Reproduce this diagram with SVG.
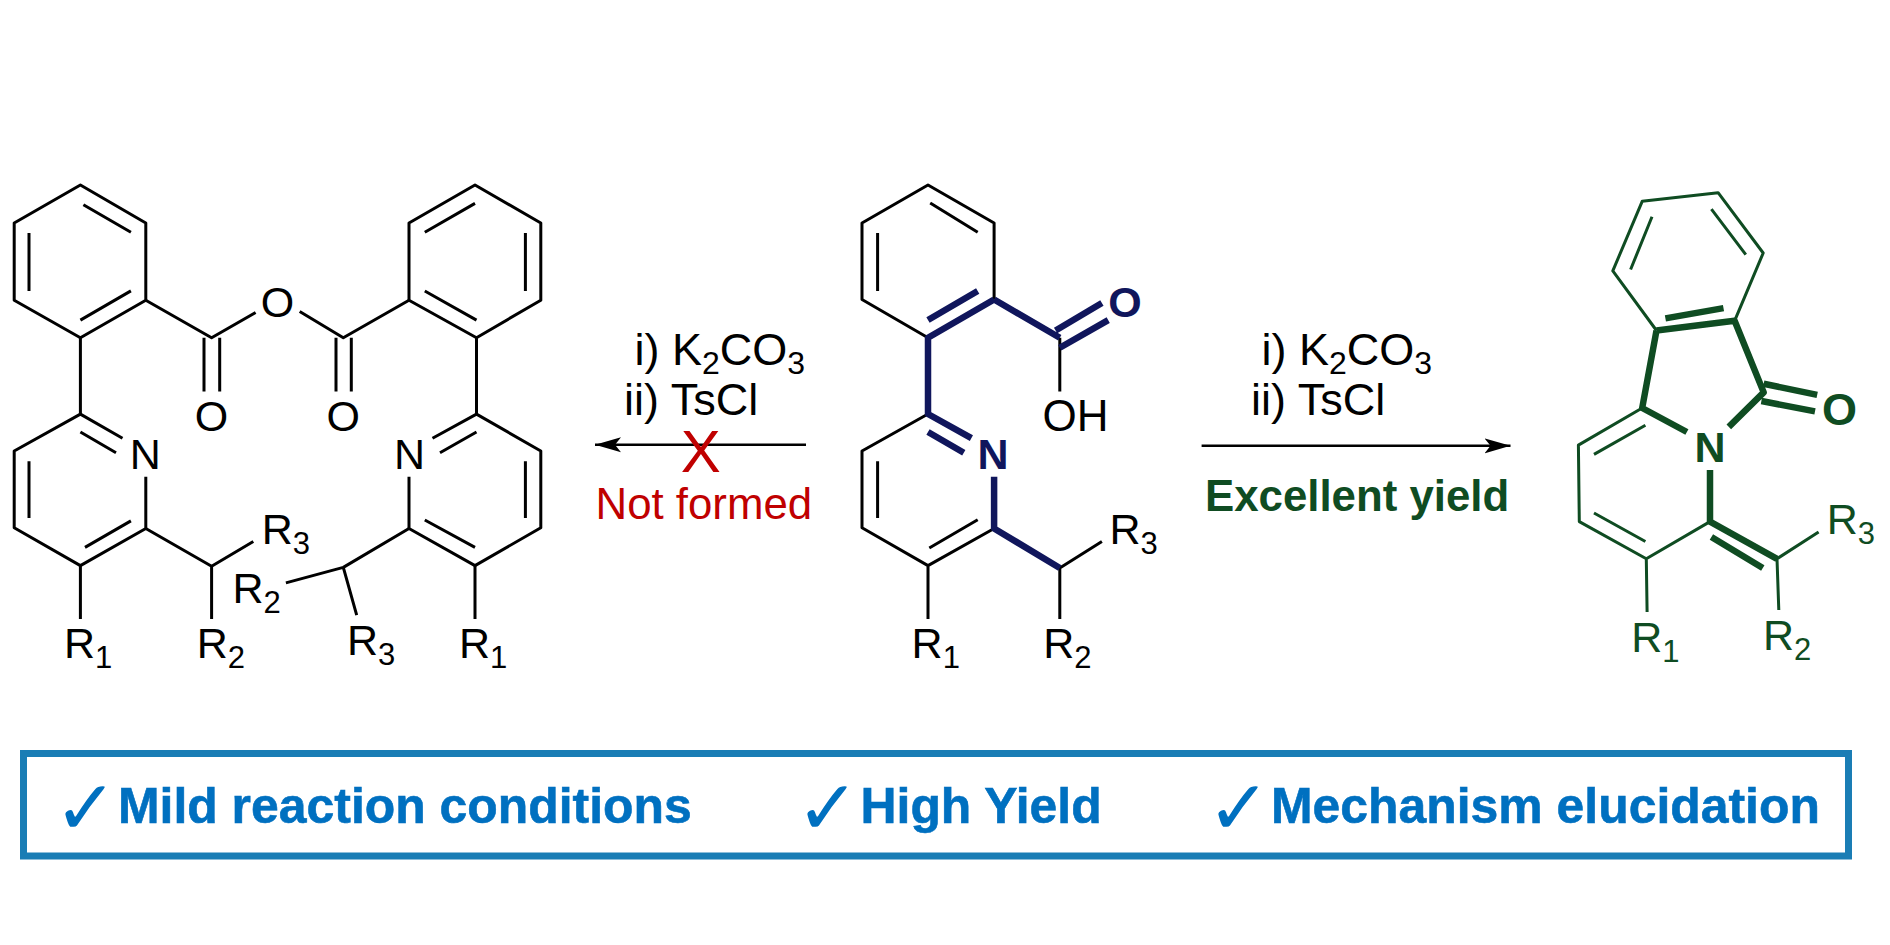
<svg xmlns="http://www.w3.org/2000/svg" width="1890" height="945" viewBox="0 0 1890 945">
<style>
text{font-family:"Liberation Sans",Arial,sans-serif;font-size:43px;fill:#000}
.s{font-size:31px}
.b{fill:none;stroke:#000;stroke-width:3;stroke-linejoin:round;stroke-linecap:butt}
.nb{fill:none;stroke:#10165c;stroke-width:6.5;stroke-linejoin:round}
.nt{fill:#10165c;font-weight:bold}
.gb{fill:none;stroke:#0f4c22;stroke-width:3;stroke-linejoin:round}
.gB{fill:none;stroke:#0f4c22;stroke-width:6.5;stroke-linejoin:round}
.g text{fill:#0f4c22}
.r{font-size:45px}
.r .s{font-size:32px}
.f{font-weight:bold;font-size:49.9px;fill:#0070c0;stroke:#0070c0;stroke-width:.6}
.c{font-family:"DejaVu Sans",sans-serif;font-size:76px;fill:#0070c0}
</style>
<defs><marker id="ah" markerUnits="userSpaceOnUse" markerWidth="28" markerHeight="16" refX="26" refY="8" orient="auto"><path d="M0 0.5L26 8L0 15.5L6 8Z" fill="#000"/></marker></defs>
<rect width="1890" height="945" fill="#fff"/>

<g id="anhydride-macrocycle">
<path class="b" d="M80.4 185L145.8 223V300.2L80.4 337.7L14.2 300.2V223ZM83.4 204.8L130.9 232.3M29 233V291M80.4 320.1L130.9 290.9"/>
<path class="b" d="M475 185L409 223V300.2L476.5 337.7L540.8 300.2V223ZM424.8 232.3L475 203.4M525.4 233V291M424.8 291L476.5 320.1"/>
<path class="b" d="M145.8 300.2L211.6 337.7L255.6 312.5M299.7 311.5L343.3 337.7L409 300.2"/>
<path class="b" d="M204 337.7V391.4M219.7 337.7V391.4M336 337.7V391.4M351.3 337.7V391.4"/>
<path class="b" d="M80.4 337.7V414.1M476.5 337.7V414.1"/>
<path class="b" d="M122.5 438.2L80.4 414.1L14.2 451V527.8L80.4 565.6L145.8 528.5V476.8M80.4 432L116 452.7M29 461.3V518M85 547.4L130.9 520.9"/>
<path class="b" d="M432.5 438.2L476.5 414.1L540.8 451V527.8L475 565.6L409 528.5V476.8M476.5 432L440 452.7M525.4 461.3V518M424.8 520L475 547.4"/>
<path class="b" d="M145.8 528.5L211.6 566.3L253.3 541.5M211.6 566.3V619M80.4 565.6V619M409 528.5L343.3 567.4L285.9 582.9M343.3 567.4L356.7 615.2M475 565.6V619"/>
<text x="277.5" y="317" text-anchor="middle">O</text>
<text x="211.6" y="430.5" text-anchor="middle">O</text>
<text x="343.3" y="430.5" text-anchor="middle">O</text>
<text x="145.4" y="468.5" text-anchor="middle">N</text>
<text x="409.5" y="468.5" text-anchor="middle">N</text>
<text x="261.8" y="543.5">R<tspan class="s" dy="10">3</tspan></text>
<text x="196.8" y="658">R<tspan class="s" dy="10">2</tspan></text>
<text x="64" y="658">R<tspan class="s" dy="10">1</tspan></text>
<text x="232.4" y="603">R<tspan class="s" dy="10">2</tspan></text>
<text x="347" y="655">R<tspan class="s" dy="10">3</tspan></text>
<text x="459" y="658">R<tspan class="s" dy="10">1</tspan></text>
</g>

<g id="acid">
<path class="b" d="M928 337.7L862 299.5V223L928 185L994.1 223V299.5M930.2 203L977.7 232.3M877.6 233V291"/>
<path class="b" d="M1059.8 337.7V391.4M928 414L862 451V527.8L928 565.6L994.1 528.5M877.6 461.3V518M929.3 548L977.7 519.8M928 565.6V619M1059.8 568L1101.9 541.5M1059.8 568V619"/>
<path class="nb" d="M994.1 299.5L928 337.7V414L971.4 438.2M928 320L977.7 291M994.1 299.5L1059.8 337.7M1055.6 330.5L1101.9 303M1059.8 347.7L1108.2 320.1M928 432L963.8 452.7M994.1 476.8V528.5L1059.8 568"/>
<text class="nt" x="1125" y="317" text-anchor="middle">O</text>
<text class="nt" x="993" y="468.5" text-anchor="middle">N</text>
<text x="1042.5" y="430.5" style="font-size:44px">OH</text>
<text x="1109.4" y="543.5">R<tspan class="s" dy="10">3</tspan></text>
<text x="1043.3" y="658">R<tspan class="s" dy="10">2</tspan></text>
<text x="911.6" y="658">R<tspan class="s" dy="10">1</tspan></text>
</g>

<g id="product" class="g">
<path class="gb" d="M1734.6 320.8L1763.2 253L1718.1 192.7L1642.2 201.3L1612.8 270.9L1656.5 330.5M1652 216.8L1630.6 269.5M1711.4 209.2L1745.8 254.7M1642.2 408L1578.4 445.1L1579.3 521.6L1646.3 558.8L1710 521.6M1645.4 425.2L1594 454.4M1594 513L1645.4 541.5M1646.3 558.8L1647.1 612M1777 558.8L1778.8 610M1777 558.8L1818.6 531.9"/>
<path class="gB" d="M1656.5 330.5L1734.6 320.8L1763.7 392.4L1728.8 426.9M1665.4 318.4L1723.5 308.1M1656.5 330.5L1642.2 408L1686.9 432M1763.7 383.8L1817.2 394.9M1761.4 401L1815 411.4M1710 470V521.6L1777 558.8M1711.4 537L1762.8 568"/>
<text x="1839.5" y="425" text-anchor="middle" font-weight="bold" style="font-size:45px">O</text>
<text x="1710" y="461.5" text-anchor="middle" font-weight="bold">N</text>
<text x="1826.7" y="534">R<tspan class="s" dy="10">3</tspan></text>
<text x="1631.2" y="652">R<tspan class="s" dy="10">1</tspan></text>
<text x="1762.9" y="649.5">R<tspan class="s" dy="10">2</tspan></text>
</g>

<g id="connectors">
<line x1="806" y1="444.8" x2="595" y2="444.8" stroke="#000" stroke-width="2.5" marker-end="url(#ah)"/>
<line x1="1201.6" y1="445.8" x2="1510.5" y2="445.8" stroke="#000" stroke-width="2.5" marker-end="url(#ah)"/>
</g>

<g id="label-left">
<text class="r" x="634.5" y="365">i) K<tspan class="s" dy="9">2</tspan><tspan dy="-9">CO</tspan><tspan class="s" dy="9">3</tspan></text>
<text class="r" x="624" y="415">ii) TsCl</text>
<text x="700.8" y="471.5" text-anchor="middle" style="font-size:60px;fill:#c00000">X</text>
<text x="595.5" y="519" style="font-size:43.8px;fill:#c00000">Not formed</text>
</g>
<g id="label-right">
<text class="r" x="1261.5" y="365">i) K<tspan class="s" dy="9">2</tspan><tspan dy="-9">CO</tspan><tspan class="s" dy="9">3</tspan></text>
<text class="r" x="1251" y="415">ii) TsCl</text>
<text x="1205" y="511" style="font-size:43.8px;font-weight:bold;fill:#0f4c22">Excellent yield</text>
</g>

<g id="summary-box">
<rect x="23.5" y="753.5" width="1825" height="102.5" fill="none" stroke="#1a7db5" stroke-width="7"/>
<text class="c" x="54" y="834">✓</text>
<text class="f" x="118" y="822.7">Mild reaction conditions</text>
<text class="c" x="796" y="834">✓</text>
<text class="f" x="860.5" y="822.7">High Yield</text>
<text class="c" x="1207" y="834">✓</text>
<text class="f" x="1271" y="822.7">Mechanism elucidation</text>
</g>
</svg>
